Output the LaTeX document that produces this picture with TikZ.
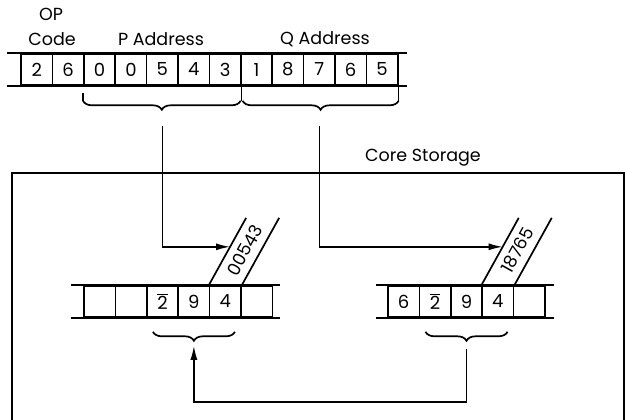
\documentclass[tikz,border=0pt]{standalone}
\usepackage{fontspec}
\setmainfont{Poppins}
\usetikzlibrary{arrows.meta,decorations.pathreplacing}
\newcommand{\ovl}[1]{$\overline{\mbox{#1}}$}
\tikzset{
  cell/.style={draw, line width=1.6pt, minimum width=31.4pt, minimum height=31pt, inner sep=0pt, font=\fontsize{18}{18}\selectfont},
  rail/.style={line width=2.2pt},
  lbl/.style={font=\fontsize{17.5}{19}\selectfont, inner sep=0pt},
  brc/.style={decorate, decoration={brace, mirror, amplitude=9pt}, line width=1.7pt},
  conn/.style={line width=1.6pt, -{Latex[length=14pt,width=7pt]}},
}
\begin{document}
\begin{tikzpicture}[x=1pt,y=1pt]
	\useasboundingbox (0,0) rectangle (626,-420);
	% instruction
	\foreach \d [count=\i] in {2,6,0,0,5,4,3,1,8,7,6,5}
		\node[cell] (w\i) at ({21+31.4*(\i-0.5)},-69.5) {\d};
	\draw[rail] ([xshift=-13pt]w1.north west) -- ([xshift=8pt]w12.north east);
	\draw[rail] ([xshift=-13pt]w1.south west) -- ([xshift=8pt]w12.south east);
	\node[lbl] (op) at (51,-14) {OP};
	\node[lbl] (code) at (52,-39) {Code};
	\node[lbl] (paddr) at (161,-39) {P Address};
	\node[lbl] (qaddr) at (325,-39) {Q Address};
	\draw[line width=1.3pt] ([yshift=-7pt]w3.south west) -- ++(0,-8) coordinate (pa);
	\draw[line width=1.3pt] (w7.south east) -- ++(0,-15) coordinate (pb);
	\draw[line width=1.3pt] (w12.south east) -- ++(0,-15) coordinate (qb);
	\draw[brc] (pa) -- ([xshift=-1pt]pb);
	\draw[brc] ([xshift=1pt]pb) -- (qb);
	\coordinate (ps) at ([yshift=-40pt]w5.south);
	\coordinate (qs) at ([yshift=-40pt]w10.south);
	% core storage
	\draw[line width=2.4pt] (12,-420) |- (624,-173) -- (624,-420);
	\node[lbl] (core) at (423,-158) {Core Storage};
	\foreach \d [count=\i] in {{},{},\ovl{2},9,4,{}}
		\node[cell] (l\i) at ({84+31.4*(\i-0.5)},-301.5) {\d};
	\draw[rail] ([xshift=-12pt]l1.north west) -- ([xshift=7pt]l6.north east);
	\draw[rail] ([xshift=-12pt]l1.south west) -- ([xshift=7pt]l6.south east);
	\foreach \d [count=\i] in {6,\ovl{2},9,4,{}}
		\node[cell] (r\i) at ({388+31.4*(\i-0.5)},-301.5) {\d};
	\draw[rail] ([xshift=-11pt]r1.north west) -- ([xshift=8pt]r5.north east);
	\draw[rail] ([xshift=-11pt]r1.south west) -- ([xshift=8pt]r5.south east);
	% slanted addresses
	\draw[line width=1.7pt] (l5.north west) -- ++(61:77) coordinate[pos=.57] (inP);
	\draw[line width=1.7pt] (l5.north east) -- ++(61:77);
	\path (l5.north) ++(61:40) node[lbl, rotate=61] (vP) {00543};
	\draw[line width=1.7pt] (r4.north west) -- ++(61:77) coordinate[pos=.57] (inQ);
	\draw[line width=1.7pt] (r4.north east) -- ++(61:77);
	\path (r4.north) ++(61:40) node[lbl, rotate=61] (vQ) {18765};
	\draw[conn] (ps) |- (inP);
	\draw[conn] (qs) |- (inQ);
	% move
	\draw[brc] ([xshift=-41pt,yshift=-14pt]l4.south) -- ([xshift=41pt,yshift=-14pt]l4.south);
	\draw[brc] ([xshift=-41pt,yshift=-14pt]r3.south) -- ([xshift=41pt,yshift=-14pt]r3.south);
	\coordinate (lb) at ([yshift=-28pt]l4.south);
	\coordinate (rb) at ([yshift=-31pt]r3.south);
	\draw[conn] (rb) -- ++(0,-53) -| (lb);
\end{tikzpicture}
\end{document}
